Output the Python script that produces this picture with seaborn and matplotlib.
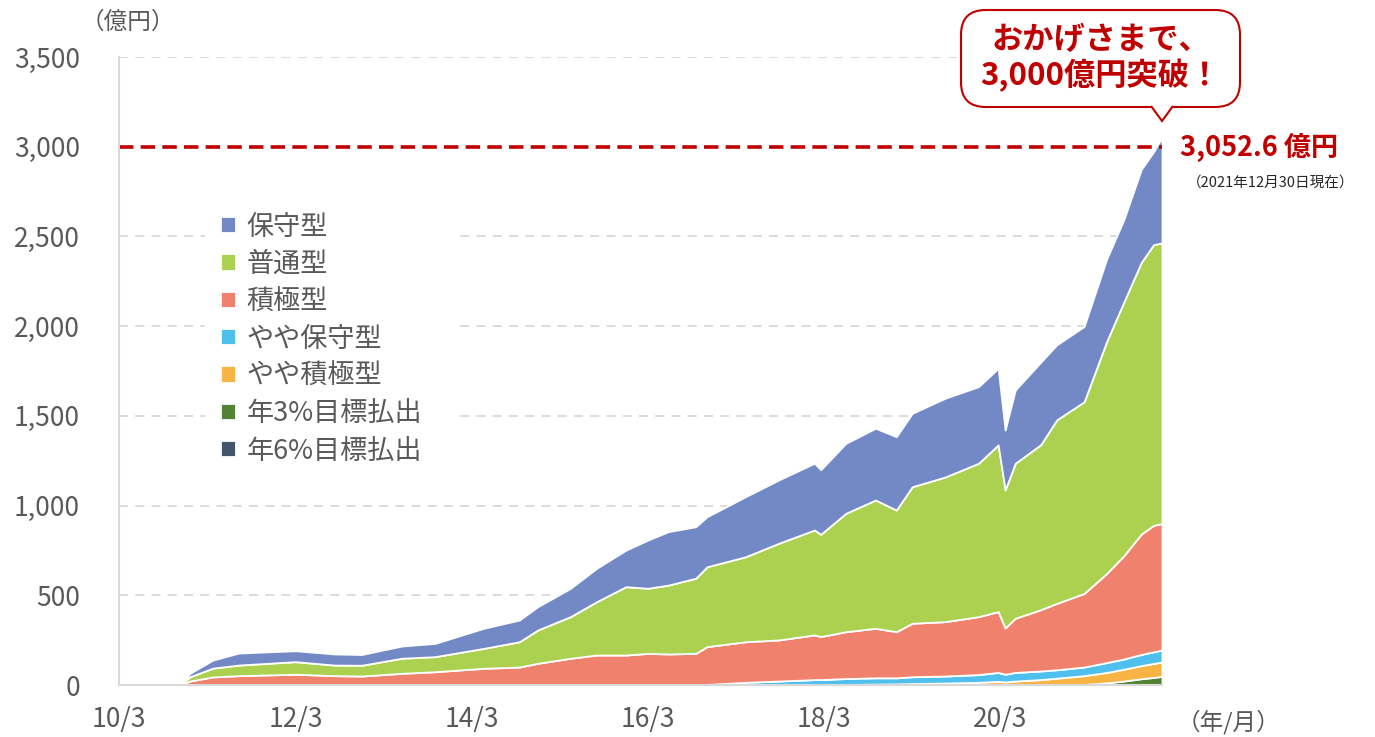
import pandas as pd
import matplotlib.pyplot as plt
from matplotlib.patches import FancyBboxPatch, Polygon, Rectangle
import seaborn as sns

# values (億円), per series, at each date
dates = ['2010-11-10', '2010-12-20', '2011-03-25', '2011-07-10', '2012-03-01',
         '2012-08-10', '2012-12-01', '2013-05-15', '2013-10-01', '2014-04-20',
         '2014-09-15', '2014-12-01', '2015-04-15', '2015-08-01', '2015-12-01',
         '2016-03-01', '2016-05-25', '2016-09-15', '2016-11-01', '2017-04-10',
         '2017-08-25', '2018-01-20', '2018-02-15', '2018-05-30', '2018-09-30',
         '2018-12-25', '2019-03-01', '2019-07-15', '2019-12-01', '2020-02-20',
         '2020-03-20', '2020-05-01', '2020-08-15', '2020-10-20', '2021-02-10',
         '2021-05-15', '2021-07-25', '2021-10-05', '2021-11-25', '2021-12-30']

hoshu = [0, 19, 45, 67, 61, 62, 60, 68, 74, 112,
         121, 130, 158, 186, 204, 269, 298, 287, 279, 335,
         353, 372, 360, 390, 400, 409, 409, 439, 427, 427,
         334, 408, 460, 418, 420, 459, 459, 518, 518, 588]
futsu = [0, 24, 49, 59, 70, 59, 60, 84, 84, 111,
         141, 186, 232, 297, 381, 363, 384, 419, 445, 474,
         539, 585, 570, 660, 715, 678, 761, 806, 855, 929,
         769, 864, 920, 1023, 1068, 1294, 1414, 1514, 1564, 1564]
sekkyoku = [0, 22, 45, 52, 60, 52, 50, 65, 74, 93,
            100, 121, 149, 167, 167, 176, 173, 176, 211, 226,
            229, 249, 240, 261, 276, 257, 298, 303, 323, 339,
            258, 302, 342, 370, 410, 497, 576, 671, 705, 705]
yaya_hoshu = [0, 0, 0, 0, 0, 0, 0, 0, 0, 0,
              0, 0, 0, 0, 0, 0, 0, 0, 3, 15,
              22, 30, 29, 33, 35, 34, 38, 39, 43, 50,
              43, 48, 48, 47, 48, 55, 57, 62, 65, 67]
yaya_sekkyoku = [0, 0, 0, 0, 0, 0, 0, 0, 0, 0,
                 0, 0, 0, 0, 0, 0, 0, 0, 0, 0,
                 0, 0, 1, 3, 5, 6, 8, 11, 15, 20,
                 17, 22, 30, 38, 49, 58, 66, 73, 78, 80]
nen3 = [0, 0, 0, 0, 0, 0, 0, 0, 0, 0,
        0, 0, 0, 0, 0, 0, 0, 0, 0, 0,
        0, 0, 0, 0, 0, 0, 0, 0, 0, 0,
        0, 0, 0, 0, 2, 11, 20, 33, 39, 45]
nen6 = [0, 0, 0, 0, 0, 0, 0, 0, 0, 0,
        0, 0, 0, 0, 0, 0, 0, 0, 0, 0,
        0, 0, 0, 0, 0, 0, 0, 0, 0, 0,
        0, 0, 0, 0, 1, 1, 2, 2, 3, 3]

names = ['保守型', '普通型', '積極型', 'やや保守型', 'やや積極型', '年3%目標払出', '年6%目標払出']
colors = ['#7289C5', '#ACD150', '#F0816D', '#4FC0EE', '#F8B345', '#548235', '#44546A']

tick_dates = ['2010-03-01', '2012-03-01', '2014-03-01', '2016-03-01', '2018-03-01', '2020-03-01']
tick_labels = ['10/3', '12/3', '14/3', '16/3', '18/3', '20/3']
y_ticks = [0, 500, 1000, 1500, 2000, 2500, 3000, 3500]
total_label = '3,052.6 億円'

sns.set_theme(style='white')
plt.rcParams['font.family'] = ['Noto Sans CJK JP', 'DejaVu Sans']

W, H = 1375, 737
fig = plt.figure(figsize=(W / 100, H / 100), dpi=100)
L, R, T, B = 119, 1162, 57, 685
ax = fig.add_axes([L / W, 1 - B / H, (R - L) / W, (B - T) / H])

x = pd.to_datetime(dates)
stack = [nen6, nen3, yaya_sekkyoku, yaya_hoshu, sekkyoku, futsu, hoshu]
polys = ax.stackplot(x, stack, colors=colors[::-1], edgecolor='white',
                     linewidth=1.3, zorder=2)

ax.set_xlim(pd.Timestamp('2010-03-01'), pd.Timestamp('2021-12-30'))
ax.set_ylim(0, 3500)

# dashed grid
for yv in y_ticks[1:]:
    if yv != 3000:
        ax.axhline(yv, color='#D9D9D9', lw=1.3, ls=(0, (5, 4)), zorder=0.5)

# red target line
ax.axhline(3000, color='#C00000', lw=2.6, ls=(0, (4, 2)), zorder=3)

ax.set_yticks(y_ticks)
ax.set_yticklabels([f'{v:,}' for v in y_ticks])
ax.set_xticks(pd.to_datetime(tick_dates))
ax.set_xticklabels(tick_labels)
ax.tick_params(axis='y', length=0, pad=28, labelsize=19, labelcolor='#595959')
ax.tick_params(axis='x', direction='in', length=7, width=1.2, color='#D0D0D0',
               pad=15, labelsize=19, labelcolor='#595959')
ax.set_axisbelow(False)

sns.despine(ax=ax, top=True, right=True)
for s in ['left', 'bottom']:
    ax.spines[s].set_color('#D9D9D9')
    ax.spines[s].set_linewidth(1.5)
    ax.spines[s].set_zorder(4)

# legend area (white patch hides the grid like the original)
ax.add_patch(Rectangle(((205 - L) / (R - L), (B - 480) / (B - T)),
                       255 / (R - L), 280 / (B - T), transform=ax.transAxes,
                       facecolor='white', edgecolor='none', zorder=1))
handles = polys[::-1]
leg = ax.legend(handles, names, loc='upper left',
                bbox_to_anchor=((210 - L) / (R - L), (B - 203) / (B - T)),
                frameon=False, fontsize=19.5, handlelength=0.55, handleheight=0.55,
                handletextpad=0.4, labelspacing=0.38, borderaxespad=0)
for t in leg.get_texts():
    t.set_color('#595959')

# axis unit labels
fig.text(128 / W, 1 - 22 / H, '（億円）', ha='center', va='center', fontsize=17, color='#595959')
fig.text(1228 / W, 1 - 722 / H, '（年/月）', ha='center', va='center', fontsize=17, color='#595959')

# total value
fig.text(1180 / W, 1 - 147 / H, total_label, ha='left', va='center', fontsize=19.5,
         fontweight='bold', color='#C00000')
fig.text(1271 / W, 1 - 183 / H, '（2021年12月30日現在）', ha='center', va='center',
         fontsize=10.5, color='#262626')

# speech bubble
bx0, by0, bx1, by1 = 961, 10, 1240, 107
box = FancyBboxPatch((bx0 / W, 1 - by1 / H), (bx1 - bx0) / W, (by1 - by0) / H,
                     boxstyle='round,pad=0,rounding_size=0.018',
                     transform=fig.transFigure, facecolor='white',
                     edgecolor='#C00000', lw=1.5, mutation_aspect=W / H, zorder=5)
fig.patches.append(box)
tail = Polygon([(1151 / W, 1 - (by1 - 1) / H), (1162 / W, 1 - 121 / H),
                (1173 / W, 1 - (by1 - 1) / H)], closed=False,
               transform=fig.transFigure, facecolor='white', edgecolor='#C00000',
               lw=1.5, zorder=6)
fig.patches.append(tail)
fig.text((bx0 + bx1) / 2 / W, 1 - 58 / H, 'おかげさまで、\n3,000億円突破！',
         ha='center', va='center', fontsize=22.5, fontweight='bold', color='#C00000',
         linespacing=1.1, zorder=7)

fig.savefig('out.png', dpi=100)
